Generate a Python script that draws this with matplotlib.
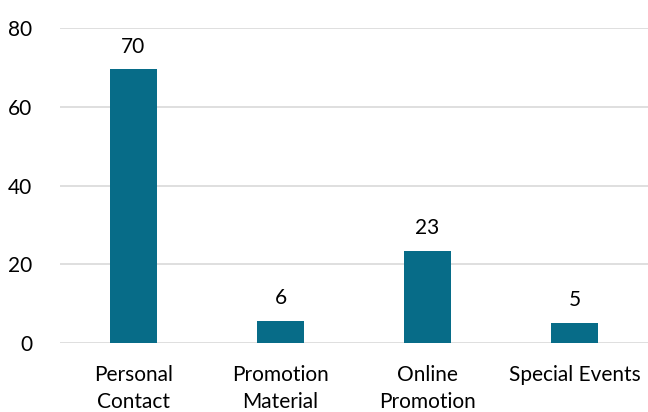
import matplotlib
matplotlib.use("Agg")
import matplotlib.pyplot as plt

categories = ["Personal\nContact", "Promotion\nMaterial", "Online\nPromotion", "Special Events"]
values = [69.5, 5.6, 23.4, 5.2]
yticks = [0, 20, 40, 60, 80]

plt.rcParams['font.family'] = ['Lato', 'DejaVu Sans']

fig = plt.figure(figsize=(6.48, 4.12), dpi=100)
ax = fig.add_axes([60 / 648, 69 / 412, 588 / 648, 315 / 412])

x = range(len(categories))
bars = ax.bar(x, values, width=0.32, color="#076C88", zorder=3)
ax.bar_label(bars, labels=[f"{v:.0f}" for v in values], padding=9, fontsize=15)

ax.set_xlim(-0.5, 3.5)
ax.set_ylim(0, 80)
ax.set_yticks(yticks)
ax.set_xticks(list(x))
ax.set_xticklabels(categories, fontsize=15, linespacing=1.4)
ax.tick_params(axis='y', labelsize=15, length=0, pad=20)
ax.tick_params(axis='x', length=0, pad=16)
ax.grid(axis='y', color="#D9D9D9", linewidth=1.2, zorder=0)
for s in ax.spines.values():
    s.set_visible(False)

fig.savefig("out.png", dpi=100)
